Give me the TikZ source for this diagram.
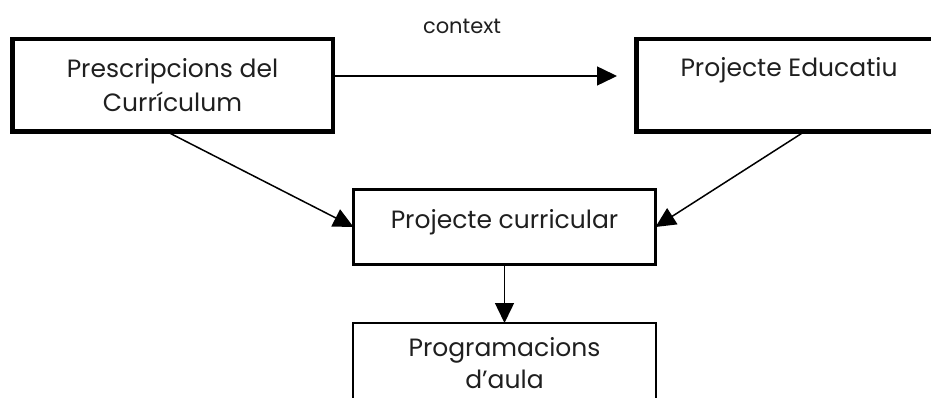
\documentclass[tikz,border=0pt]{standalone}
\usepackage{fontspec}
\setmainfont{Poppins}
\usetikzlibrary{arrows.meta,calc}
\begin{document}
\begin{tikzpicture}[x=1pt,y=-1pt,
  every node/.style={inner sep=0pt,outer sep=0pt},
  txt/.style={font=\fontsize{25}{34}\selectfont,align=center,text=black!88},
  bigbox/.style={draw,line width=4.5pt,minimum width=320.5pt,minimum height=92.5pt},
  midbox/.style={draw,line width=3pt,minimum width=302pt,minimum height=75pt},
  lowbox/.style={draw,line width=1.8pt,minimum width=303.2pt,minimum height=110pt},
  conn/.style={line width=1.5pt,-{Triangle[length=20pt,width=19pt]}}]
\useasboundingbox (0,0) rectangle (931,398);
\clip (0,0) rectangle (931,398);
\node[bigbox,txt] (pres) at (172.5,85.5) {Prescripcions del\\Currículum};
\node[bigbox,txt,minimum width=305pt] (edu) at (789,85.5) {Projecte Educatiu\\[-8pt]\strut};
\node[midbox] (cur) at (504.5,227) {};
\node[txt] (curt) at (504.5,222) {Projecte curricular};
\node[lowbox] (aula) at (504.5,378) {};
\node[txt,font=\fontsize{25}{32}\selectfont] (aulat) at (504.5,363) {Programacions\\d’aula};
\node[font=\fontsize{21}{23}\selectfont,text=black!88] (ctxt) at (462,26) {context};
\coordinate (ctx) at (617,76);
\draw[conn] (pres.east |- ctx) -- (ctx);
\draw[conn] ($(pres.south west)!0.483!(pres.south east)$) -- (cur.west);
\draw[conn] ($(edu.south west)!0.55!(edu.south east)$) -- (cur.east);
\draw[conn] (cur.south) -- (aula.north);
\end{tikzpicture}
\end{document}
